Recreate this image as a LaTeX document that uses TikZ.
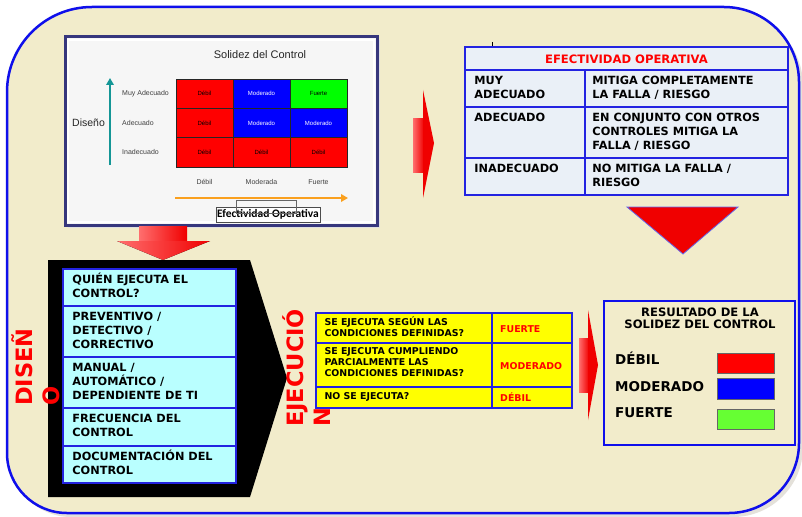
\documentclass[tikz,border=0pt]{standalone}
\usepackage{fontspec}
\setmainfont{Liberation Sans}
\newfontfamily\heavy{DejaVu Sans}
\newfontfamily\calib{Carlito}
\usetikzlibrary{arrows.meta}

\definecolor{paper}{RGB}{242,236,203}
\definecolor{frameblue}{RGB}{15,15,235}
\definecolor{lineblue}{RGB}{35,35,225}
\definecolor{shadowgray}{RGB}{228,225,218}
\definecolor{panelnavy}{RGB}{55,55,125}
\definecolor{panelfill}{RGB}{246,246,246}
\definecolor{cellred}{RGB}{255,0,0}
\definecolor{cellblue}{RGB}{0,0,255}
\definecolor{cellgreen}{RGB}{0,255,0}
\definecolor{axisteal}{RGB}{20,150,150}
\definecolor{axisorange}{RGB}{250,160,30}
\definecolor{tablefill}{RGB}{234,240,247}
\definecolor{boxcyan}{RGB}{185,255,255}
\definecolor{boxyellow}{RGB}{255,255,0}
\definecolor{swatchgreen}{RGB}{102,255,51}
\definecolor{arrowred}{RGB}{240,0,0}
\definecolor{arrowlight}{RGB}{255,110,110}

% fixed first-line heights, so text blocks sit at a known baseline
\newcommand\lnA{\rule{0pt}{11pt}}
\newcommand\lnB{\rule{0pt}{9.4pt}}
\newcommand\lnC{\rule{0pt}{21pt}}

\tikzset{
  gridcell/.style={draw=black!85, line width=0.8pt, minimum width=57pt,
    minimum height=29.33pt, inner sep=0pt, font=\fontsize{6}{7}\selectfont},
  axislabel/.style={font=\fontsize{7}{8}\selectfont, text=black!75, inner sep=0pt},
  tcell/.style={draw=lineblue, line width=1.5pt, fill=tablefill, inner sep=0pt},
  ccell/.style={draw=lineblue, line width=1.5pt, fill=boxcyan, inner sep=0pt,
    minimum width=173pt},
  ycell/.style={draw=lineblue, line width=1.3pt, fill=boxyellow, inner sep=0pt},
  heavytxt/.style={font=\heavy\bfseries\fontsize{11.3}{14}\selectfont,
    align=left, anchor=north west, inner sep=0pt},
  smalltxt/.style={font=\heavy\bfseries\fontsize{9.4}{11}\selectfont,
    align=left, anchor=north west, inner sep=0pt},
  redtxt/.style={font=\heavy\bfseries\fontsize{9.4}{11}\selectfont,
    text=cellred, anchor=base west, inner sep=0pt},
  sidetitle/.style={font=\heavy\bfseries\fontsize{22.5}{27}\selectfont,
    text=cellred, rotate=90, align=left, anchor=north west, inner sep=0pt},
  swatch/.style={draw=black!60, line width=0.8pt, minimum width=57pt,
    inner sep=0pt},
  legendtxt/.style={font=\heavy\bfseries\fontsize{13.5}{16}\selectfont,
    anchor=base west, inner sep=0pt},
}

\begin{document}
\begin{tikzpicture}[x=1pt,y=-1pt]
\useasboundingbox (0,0) rectangle (802,516);
\fill[white] (0,0) rectangle (802,516);

% rounded outer frame with its soft shadow
\fill[shadowgray] (10,96) .. controls (10,49.1) and (49.1,11) .. (96,11)
  -- (728,11) .. controls (769.4,11) and (803,44.6) .. (803,86)
  -- (803,447) .. controls (803,485.7) and (771.7,517) .. (733,517)
  -- (71,517) .. controls (37.9,517) and (10,490.1) .. (10,457) -- cycle;
\draw[frameblue, line width=2.5pt, fill=paper]
  (7,92) .. controls (7,45.1) and (45.1,7) .. (92,7)
  -- (724,7) .. controls (765.4,7) and (799,40.6) .. (799,82)
  -- (799,443) .. controls (799,481.7) and (767.7,513) .. (729,513)
  -- (67,513) .. controls (33.9,513) and (7,486.1) .. (7,453) -- cycle;

% ---------- strength matrix panel ----------
\fill[black!12] (68,40) rectangle (380,228);
\draw[panelnavy, line width=3pt, fill=panelfill] (65,37) rectangle (377,225);
\draw[white, line width=1.5pt] (68,40) rectangle (374,222);
\node[font=\fontsize{11}{12}\selectfont, text=black!85, inner sep=0pt] (mtitle) at (260,55) {Solidez del Control};

\node[gridcell, fill=cellred] (g11) at (204.5,93.67) {Débil};
\node[gridcell, fill=cellblue, text=white] (g12) at (261.5,93.67) {Moderado};
\node[gridcell, fill=cellgreen] (g13) at (318.5,93.67) {Fuerte};
\node[gridcell, fill=cellred] (g21) at (204.5,123) {Débil};
\node[gridcell, fill=cellblue, text=white] (g22) at (261.5,123) {Moderado};
\node[gridcell, fill=cellblue, text=white] (g23) at (318.5,123) {Moderado};
\node[gridcell, fill=cellred] (g31) at (204.5,152.33) {Débil};
\node[gridcell, fill=cellred] (g32) at (261.5,152.33) {Débil};
\node[gridcell, fill=cellred] (g33) at (318.5,152.33) {Débil};

\node[axislabel, anchor=west] (rl1) at (122,93.67) {Muy Adecuado};
\node[axislabel, anchor=west] (rl2) at (122,123) {Adecuado};
\node[axislabel, anchor=west] (rl3) at (122,152.33) {Inadecuado};
\node[axislabel] (cl1) at (204.5,182) {Débil};
\node[axislabel] (cl2) at (261.5,182) {Moderada};
\node[axislabel] (cl3) at (318.5,182) {Fuerte};
\node[font=\fontsize{10.5}{12}\selectfont, text=black!85, anchor=west, inner sep=0pt] (ejey) at (72,123) {Diseño};

\coordinate (tealfoot) at (110,165);
\coordinate (tealtip) at (110,78);
\draw[axisteal, line width=2.5pt, -{Triangle[length=7pt,width=7.5pt]}] (tealfoot) -- (tealtip);
\coordinate (orfoot) at (175,198);
\coordinate (ortip) at (348,198);
\draw[axisorange, line width=2.5pt, -{Triangle[length=7pt,width=7.5pt]}] (orfoot) -- (ortip);

\node[draw=black!70, line width=0.6pt, fill=white, inner sep=0pt,
  minimum width=104pt, minimum height=15pt,
  font=\calib\bfseries\fontsize{11.5}{12}\selectfont] (ejex) at (268,214.5) {Efectividad Operativa};
\draw[black!60, line width=0.5pt] (236,200) rectangle (296,213);

% ---------- block arrows ----------
\fill[left color=arrowlight, right color=arrowred] (139,226) rectangle (187,242);
\fill[left color=arrowlight, right color=arrowred] (117,241) -- (210,241) -- (163,260) -- cycle;

\fill[left color=arrowlight, right color=arrowred] (413,118) rectangle (424,172);
\fill[arrowred] (423,90) -- (434,143) -- (423,198) -- cycle;

\fill[left color=arrowlight, right color=arrowred] (579,338) rectangle (589,392);
\fill[arrowred] (588,310) -- (598,365) -- (588,420) -- cycle;

\filldraw[fill=arrowred, draw=lineblue!70, line width=0.8pt] (627,207) -- (738,207) -- (683,254) -- cycle;

\draw[black, line width=0.8pt] (492,42) -- (492,47);

% ---------- operational effectiveness table ----------
\node[tcell, minimum width=323pt, minimum height=23pt] (t1h) at (626.5,58.5) {};
\node[font=\heavy\bfseries\fontsize{11.6}{14}\selectfont, text=cellred, inner sep=0pt] (t1title) at (626.5,59) {EFECTIVIDAD OPERATIVA};

\node[tcell, minimum width=120pt, minimum height=37pt] (t1a) at (525,88.5) {};
\node[tcell, minimum width=203pt, minimum height=37pt] (t1b) at (686.5,88.5) {};
\node[tcell, minimum width=120pt, minimum height=51pt] (t1c) at (525,132.5) {};
\node[tcell, minimum width=203pt, minimum height=51pt] (t1d) at (686.5,132.5) {};
\node[tcell, minimum width=120pt, minimum height=37pt] (t1e) at (525,176.5) {};
\node[tcell, minimum width=203pt, minimum height=37pt] (t1f) at (686.5,176.5) {};

\node[heavytxt] (t1at) at ([shift={(10,4)}]t1a.north west) {\lnA MUY\\ADECUADO};
\node[heavytxt] (t1bt) at ([shift={(8,4)}]t1b.north west) {\lnA MITIGA COMPLETAMENTE\\LA FALLA / RIESGO};
\node[heavytxt] (t1ct) at ([shift={(10,4)}]t1c.north west) {\lnA ADECUADO};
\node[heavytxt] (t1dt) at ([shift={(8,4)}]t1d.north west) {\lnA EN CONJUNTO CON OTROS\\CONTROLES MITIGA LA\\FALLA / RIESGO};
\node[heavytxt] (t1et) at ([shift={(10,4)}]t1e.north west) {\lnA INADECUADO};
\node[heavytxt] (t1ft) at ([shift={(8,4)}]t1f.north west) {\lnA NO MITIGA LA FALLA /\\RIESGO};

% ---------- design block ----------
\fill[black] (48,260) -- (250,260) -- (287,378) -- (250,497) -- (48,497) -- cycle;

\node[ccell, minimum height=37pt] (d1) at (149.5,287.5) {};
\node[ccell, minimum height=51pt] (d2) at (149.5,331.5) {};
\node[ccell, minimum height=51pt] (d3) at (149.5,382.5) {};
\node[ccell, minimum height=38pt] (d4) at (149.5,427) {};
\node[ccell, minimum height=37pt] (d5) at (149.5,464.5) {};

\node[heavytxt] (d1t) at ([shift={(10,4)}]d1.north west) {\lnA QUIÉN EJECUTA EL\\CONTROL?};
\node[heavytxt] (d2t) at ([shift={(10,4)}]d2.north west) {\lnA PREVENTIVO /\\DETECTIVO /\\CORRECTIVO};
\node[heavytxt] (d3t) at ([shift={(10,4)}]d3.north west) {\lnA MANUAL /\\AUTOMÁTICO /\\DEPENDIENTE DE TI};
\node[heavytxt] (d4t) at ([shift={(10,4)}]d4.north west) {\lnA FRECUENCIA DEL\\CONTROL};
\node[heavytxt] (d5t) at ([shift={(10,4)}]d5.north west) {\lnA DOCUMENTACIÓN DEL\\CONTROL};

\node[sidetitle] (diseno) at (11,406) {\lnC DISEÑ\\O};

% ---------- execution table ----------
\node[ycell, minimum width=176pt, minimum height=30pt] (e1) at (404,328) {};
\node[ycell, minimum width=80pt, minimum height=30pt] (e2) at (532,328) {};
\node[ycell, minimum width=176pt, minimum height=44pt] (e3) at (404,365) {};
\node[ycell, minimum width=80pt, minimum height=44pt] (e4) at (532,365) {};
\node[ycell, minimum width=176pt, minimum height=21pt] (e5) at (404,397.5) {};
\node[ycell, minimum width=80pt, minimum height=21pt] (e6) at (532,397.5) {};

\node[smalltxt] (e1t) at ([shift={(9,3.5)}]e1.north west) {\lnB SE EJECUTA SEGÚN LAS\\CONDICIONES DEFINIDAS?};
\node[smalltxt] (e3t) at ([shift={(9,2.5)}]e3.north west) {\lnB SE EJECUTA CUMPLIENDO\\PARCIALMENTE LAS\\CONDICIONES DEFINIDAS?};
\node[smalltxt] (e5t) at ([shift={(9,3.5)}]e5.north west) {\lnB NO SE EJECUTA?};
\node[redtxt] (e2t) at (500,332) {FUERTE};
\node[redtxt] (e4t) at (500,369) {MODERADO};
\node[redtxt] (e6t) at (500,401) {DÉBIL};

\node[sidetitle] (ejecucion) at (282,427) {\lnC EJECUCIÓ\\N};

% ---------- result legend ----------
\node[draw=frameblue, line width=2.5pt, fill=paper, minimum width=191pt,
  minimum height=144pt, inner sep=0pt] (res) at (699.5,373) {};
\node[font=\heavy\bfseries\fontsize{11.6}{12.5}\selectfont, align=center,
  anchor=north, inner sep=0pt] (restitle) at (700,305) {\lnA RESULTADO DE LA\\SOLIDEZ DEL CONTROL};
\node[legendtxt] (lg1) at (615,364) {DÉBIL};
\node[legendtxt] (lg2) at (615,391) {MODERADO};
\node[legendtxt] (lg3) at (615,417) {FUERTE};
\node[swatch, fill=cellred, minimum height=20pt] (sw1) at (745.5,363) {};
\node[swatch, fill=cellblue, minimum height=21pt] (sw2) at (745.5,388.5) {};
\node[swatch, fill=swatchgreen, minimum height=20pt] (sw3) at (745.5,419) {};
\end{tikzpicture}
\end{document}
